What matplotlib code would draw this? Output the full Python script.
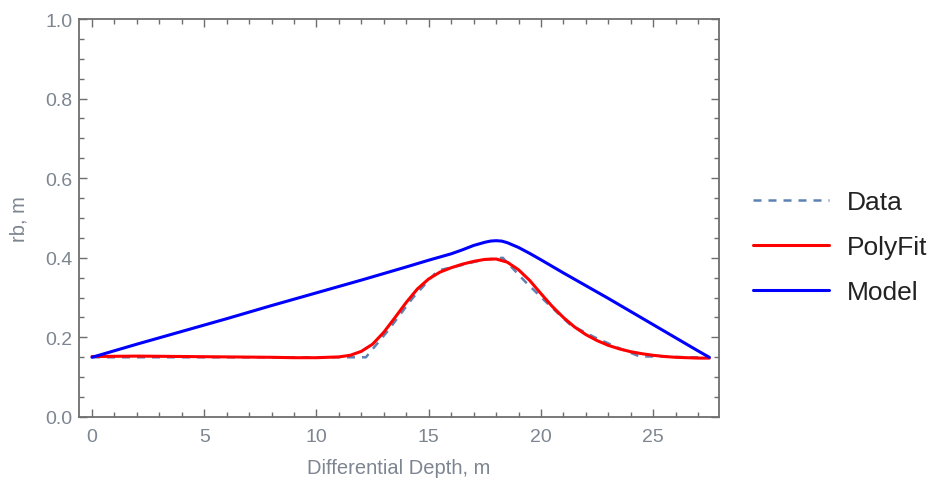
import matplotlib
matplotlib.use("Agg")
import matplotlib.pyplot as plt
from matplotlib.ticker import MultipleLocator

plt.rcParams['font.family'] = ['Liberation Sans', 'DejaVu Sans']

# Data (dashed, piecewise)
data_x = [0, 1, 2, 3, 4, 5, 6, 7, 8, 9, 10, 11, 12.2, 13.2, 14.3, 15.4,
          16.5, 17.4, 18.3, 19.3, 20.3, 21.3, 22.4, 23.4, 24.4, 25.5, 26.5, 27.5]
data_y = [0.15, 0.15, 0.15, 0.15, 0.15, 0.15, 0.15, 0.15, 0.15, 0.15, 0.15, 0.15,
          0.15, 0.218, 0.30, 0.368, 0.382, 0.395, 0.40, 0.34, 0.285, 0.232,
          0.20, 0.175, 0.152, 0.152, 0.15, 0.15]

# PolyFit (smooth)
fit_x = [0, 2, 4, 6, 8, 9, 10, 11, 11.5, 12, 12.5, 13, 13.5, 14, 14.5, 15,
         15.5, 16, 16.5, 17, 17.5, 18, 18.5, 19, 19.5, 20, 20.5, 21, 21.5,
         22, 22.5, 23, 23.5, 24, 24.5, 25, 25.5, 26, 26.5, 27, 27.5]
fit_y = [0.152, 0.153, 0.152, 0.151, 0.15, 0.149, 0.149, 0.151, 0.155, 0.165,
         0.183, 0.213, 0.25, 0.288, 0.322, 0.347, 0.364, 0.375, 0.384, 0.391,
         0.396, 0.397, 0.389, 0.37, 0.343, 0.31, 0.278, 0.25, 0.226, 0.207,
         0.192, 0.18, 0.171, 0.164, 0.159, 0.155, 0.152, 0.15, 0.149, 0.148,
         0.148]

# Model
model_x = [0, 2, 4, 6, 8, 10, 12, 14, 15, 16, 16.5, 17, 17.5, 17.75, 18,
           18.25, 18.5, 18.75, 19, 19.5, 20, 21, 22, 23, 24, 25, 26, 27, 27.5]
model_y = [0.15, 0.183, 0.215, 0.247, 0.28, 0.312, 0.344, 0.377, 0.394, 0.41,
           0.42, 0.431, 0.439, 0.442, 0.443, 0.442, 0.438, 0.432, 0.426, 0.411,
           0.395, 0.362, 0.33, 0.298, 0.265, 0.232, 0.199, 0.166, 0.15]

GRAY = "#6e6e6e"
LABEL = "#7d8590"

fig = plt.figure(figsize=(9.37, 4.89), dpi=100)
ax = fig.add_axes([0.0843, 0.1452, 0.6830, 0.8139])

ax.plot(data_x, data_y, color="#5E81B5", lw=1.8, ls=(0, (3.2, 2.8)), label="Data")
ax.plot(fit_x, fit_y, color="#FF0000", lw=2.2, label="PolyFit", solid_capstyle="round")
ax.plot(model_x, model_y, color="#0000FF", lw=2.2, label="Model", solid_capstyle="round")

ax.set_xlim(-0.58, 27.93)
ax.set_ylim(0, 1)
ax.xaxis.set_major_locator(MultipleLocator(5))
ax.xaxis.set_minor_locator(MultipleLocator(1))
ax.yaxis.set_major_locator(MultipleLocator(0.2))
ax.yaxis.set_minor_locator(MultipleLocator(0.05))
ax.yaxis.set_major_formatter(plt.FuncFormatter(lambda v, p: f"{v:.1f}"))

for s in ax.spines.values():
    s.set_color(GRAY)
    s.set_linewidth(1.3)
ax.tick_params(which="both", direction="in", top=True, right=True,
               color=GRAY, width=1.0, labelcolor=LABEL, labelsize=14)
ax.tick_params(which="major", length=6)
ax.tick_params(which="minor", length=3.5)
ax.tick_params(axis="x", which="major", pad=8)
ax.tick_params(axis="y", which="major", pad=4.5)

ax.set_xlabel("Differential Depth, m", color=LABEL, fontsize=14.5, labelpad=9)
ax.set_ylabel("rb, m", color=LABEL, fontsize=14.5, labelpad=12)

leg = ax.legend(loc="center left", bbox_to_anchor=(1.016, 0.427), frameon=False,
                fontsize=19, handlelength=2.9, handletextpad=0.65,
                labelspacing=0.79)
for t in leg.get_texts():
    t.set_color("#222222")

fig.savefig("out.png", dpi=100, facecolor="white")
